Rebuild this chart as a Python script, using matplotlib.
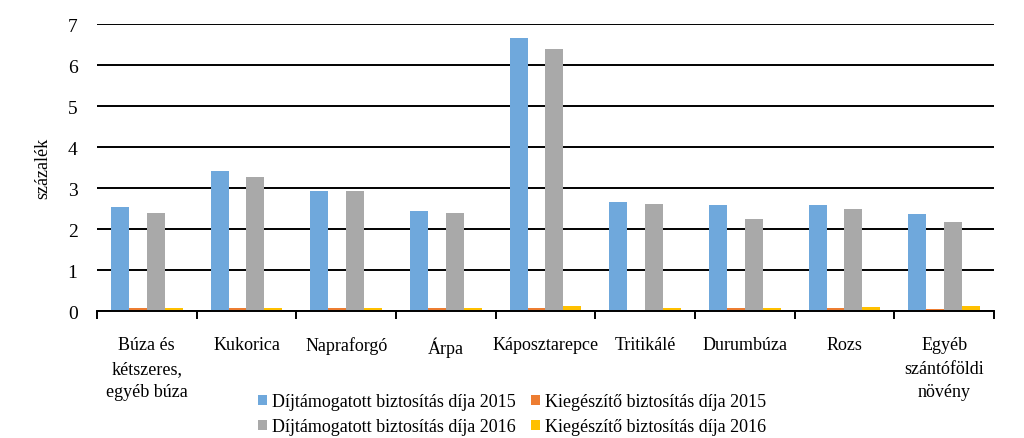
import matplotlib
matplotlib.use("Agg")
import matplotlib.pyplot as plt
import numpy as np

categories = ["Búza és\nkétszeres,\negyéb búza", "Kukorica", "Napraforgó", "Árpa",
              "Káposztarepce", "Tritikálé", "Durumbúza", "Rozs",
              "Egyéb\nszántóföldi\nnövény"]
dij2015 = [2.54, 3.42, 2.92, 2.43, 6.67, 2.66, 2.58, 2.58, 2.36]
kieg2015 = [0.08, 0.08, 0.08, 0.08, 0.08, 0.03, 0.08, 0.08, 0.04]
dij2016 = [2.39, 3.26, 2.92, 2.39, 6.40, 2.62, 2.24, 2.50, 2.17]
kieg2016 = [0.08, 0.08, 0.08, 0.08, 0.12, 0.08, 0.08, 0.11, 0.12]
series_labels = ["Díjtámogatott biztosítás díja 2015", "Kiegészítő biztosítás díja 2015",
                 "Díjtámogatott biztosítás díja 2016", "Kiegészítő biztosítás díja 2016"]
colors = ["#6FA8DC", "#ED7D31", "#A9A9A9", "#FFC000"]

plt.rcParams['font.family'] = ['Liberation Serif', 'DejaVu Serif']

fig = plt.figure(figsize=(10.24, 4.39), dpi=100)
ax = fig.add_axes([0.0947, 0.289, 0.876, 0.654])

x = np.arange(len(categories))
w = 0.18
data = [dij2015, kieg2015, dij2016, kieg2016]
bars = []
for i, (vals, c, lab) in enumerate(zip(data, colors, series_labels)):
    b = ax.bar(x + (i - 1.5) * w, vals, w, color=c, label=lab, zorder=3)
    bars.append(b)

ax.set_xlim(-0.5, len(categories) - 0.5)
ax.set_ylim(0, 7)
ax.set_yticks(range(0, 8))
ax.grid(axis='y', color='black', linewidth=1.4, zorder=0)
for s in ['left', 'right', 'top']:
    ax.spines[s].set_visible(False)
ax.spines['bottom'].set_linewidth(1.4)
ax.spines['bottom'].set_zorder(4)

ax.set_xticks(x)
ax.set_xticklabels(categories, fontsize=13, linespacing=1.5, va='top')
ax.set_xticks(np.arange(-0.5, len(categories)), minor=True)
ax.tick_params(axis='x', which='major', length=0, pad=18)
ax.tick_params(axis='x', which='minor', length=6, width=1.4, direction='out')
ax.tick_params(axis='y', length=0, labelsize=14, pad=14)
ax.set_ylabel("százalék", fontsize=13, labelpad=12)

order = [0, 2, 1, 3]
leg = fig.legend([bars[i] for i in order], [series_labels[i] for i in order],
                 ncol=2, loc='center', bbox_to_anchor=(0.5, 0.054),
                 frameon=False, fontsize=13, handlelength=0.5, handleheight=0.5,
                 handletextpad=0.3, columnspacing=0.8, labelspacing=0.45)

fig.savefig("out.png", dpi=100)
